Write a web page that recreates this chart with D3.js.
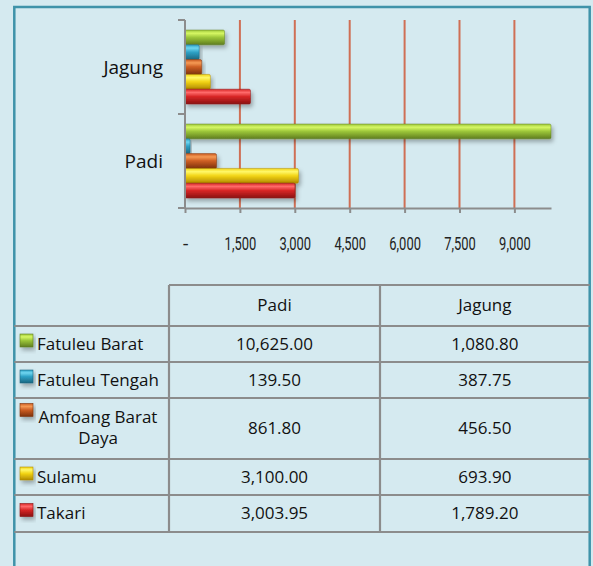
<!DOCTYPE html>
<html>
<head>
<meta charset="utf-8">
<script src="https://cdn.jsdelivr.net/npm/d3@7"></script>
<style>
  html, body { margin: 0; padding: 0; background: #d5eaf0; }
  svg { display: block; }
</style>
</head>
<body>
<svg id="chart" width="593" height="566"></svg>
<script>
// ---- data ----
const categories = ["Jagung", "Padi"];
const series = ["Fatuleu Barat", "Fatuleu Tengah", "Amfoang Barat Daya", "Sulamu", "Takari"];
const padiValues = [10625.00, 139.50, 861.80, 3100.00, 3003.95];
const jagungValues = [1080.80, 387.75, 456.50, 693.90, 1789.20];
const tickValues = [0, 1500, 3000, 4500, 6000, 7500, 9000];
const tickLabels = ["-", "1,500", "3,000", "4,500", "6,000", "7,500", "9,000"];
const tableHeaders = ["Padi", "Jagung"];
const padiText = ["10,625.00", "139.50", "861.80", "3,100.00", "3,003.95"];
const jagungText = ["1,080.80", "387.75", "456.50", "693.90", "1,789.20"];

const valuesByCat = { "Padi": padiValues, "Jagung": jagungValues };

// ---- styles ----
const palette = {
  "Fatuleu Barat":      { light: "#d6f764", mid: "#9cc63a", dark: "#5f7d20" },
  "Fatuleu Tengah":     { light: "#6fd6f0", mid: "#2fa2c6", dark: "#1a6680" },
  "Amfoang Barat Daya": { light: "#f59a55", mid: "#cc5d22", dark: "#7d320c" },
  "Sulamu":             { light: "#fff86a", mid: "#f2d414", dark: "#b08a00" },
  "Takari":             { light: "#ff6a6a", mid: "#d82626", dark: "#8a1212" }
};

const svg = d3.select("#chart");
const defs = svg.append("defs");

series.forEach((s, i) => {
  const c = palette[s];
  const g = defs.append("linearGradient").attr("id", "grad" + i)
    .attr("x1", 0).attr("y1", 0).attr("x2", 0).attr("y2", 1);
  g.append("stop").attr("offset", "0%").attr("stop-color", c.mid);
  g.append("stop").attr("offset", "22%").attr("stop-color", c.light);
  g.append("stop").attr("offset", "50%").attr("stop-color", c.mid);
  g.append("stop").attr("offset", "100%").attr("stop-color", c.dark);
});
const f = defs.append("filter").attr("id", "shadow")
  .attr("x", "-10%").attr("y", "-30%").attr("width", "130%").attr("height", "180%");
f.append("feDropShadow").attr("dx", 2).attr("dy", 3).attr("stdDeviation", 2)
  .attr("flood-color", "#000").attr("flood-opacity", 0.3);

// frame
svg.append("rect").attr("x", 0).attr("y", 0).attr("width", 593).attr("height", 566).attr("fill", "#d5eaf0");
svg.append("rect").attr("x", 14.3).attr("y", 7).attr("width", 575.4).attr("height", 600)
  .attr("fill", "none").attr("stroke", "#3f93a9").attr("stroke-width", 2.5);

// ---- scales ----
const x = d3.scaleLinear().domain([0, 10000]).range([185, 551]).clamp(true);
const y0 = d3.scaleBand().domain(categories).range([20, 208]);
const y1 = d3.scaleBand().domain(series).range([10, y0.bandwidth() - 10]);

// gridlines
svg.append("g").selectAll("line").data(tickValues.filter(d => d > 0)).join("line")
  .attr("x1", d => x(d)).attr("x2", d => x(d))
  .attr("y1", 20).attr("y2", 208)
  .attr("stroke", "#cf6f55").attr("stroke-width", 2);

// bars
const groups = svg.append("g").selectAll("g").data(categories).join("g")
  .attr("transform", d => `translate(0,${y0(d)})`);
groups.selectAll("rect")
  .data(cat => series.map((s, i) => ({ s, i, v: valuesByCat[cat][i] })))
  .join("rect")
  .attr("x", x(0))
  .attr("y", d => y1(d.s))
  .attr("width", d => x(d.v) - x(0))
  .attr("height", y1.bandwidth())
  .attr("rx", 1.5)
  .attr("fill", d => `url(#grad${d.i})`)
  .attr("stroke", d => palette[d.s].dark)
  .attr("stroke-opacity", 0.6)
  .attr("stroke-width", 0.8)
  .attr("filter", "url(#shadow)");

// y axis
const axisColor = "#8c8c8c";
svg.append("line").attr("x1", 185).attr("x2", 185).attr("y1", 20).attr("y2", 208)
  .attr("stroke", axisColor).attr("stroke-width", 2);
const bounds = categories.map(c => y0(c)).concat([y0.range()[1]]);
svg.append("g").selectAll("line").data(bounds).join("line")
  .attr("x1", 178).attr("x2", 185).attr("y1", d => d).attr("y2", d => d)
  .attr("stroke", axisColor).attr("stroke-width", 2);
svg.append("g").selectAll("text").data(categories).join("text")
  .attr("x", 163).attr("y", d => y0(d) + y0.bandwidth() / 2)
  .attr("dy", "0.35em")
  .attr("text-anchor", "end")
  .attr("font-family", "'Open Sans', sans-serif").attr("font-size", 19)
  .attr("fill", "#111").text(d => d);

// x axis
const xAxis = d3.axisBottom(x).tickValues(tickValues).tickFormat((d, i) => tickLabels[i])
  .tickSize(5).tickSizeOuter(0);
const gx = svg.append("g").attr("transform", "translate(0,208)").call(xAxis);
gx.select(".domain").attr("stroke", axisColor).attr("stroke-width", 2);
gx.selectAll(".tick line").attr("stroke", axisColor).attr("stroke-width", 2);
gx.selectAll(".tick text")
  .attr("y", 35).attr("dy", "0.35em")
  .attr("font-family", "Roboto, 'DejaVu Sans', sans-serif")
  .attr("font-size", 19).attr("fill", "#222")
  .each(function (d, i) {
    if (tickLabels[i].length > 1) {
      const w = this.getComputedTextLength();
      d3.select(this).attr("textLength", w * 0.68).attr("lengthAdjust", "spacingAndGlyphs");
    }
  });

// ---- data table ----
const colX = [14.3, 169, 380, 589.7];
const rowY = [285, 326, 362, 398, 459, 495, 532];
const lineColor = "#8c8c8c";
const tbl = svg.append("g");
// horizontal lines
tbl.append("line").attr("x1", colX[1]).attr("x2", colX[3]).attr("y1", rowY[0]).attr("y2", rowY[0])
  .attr("stroke", lineColor).attr("stroke-width", 2.2);
tbl.selectAll("line.h").data(rowY.slice(1)).join("line").attr("class", "h")
  .attr("x1", colX[0]).attr("x2", colX[3]).attr("y1", d => d).attr("y2", d => d)
  .attr("stroke", lineColor).attr("stroke-width", 2.2);
// vertical lines
tbl.selectAll("line.v").data([colX[1], colX[2]]).join("line").attr("class", "v")
  .attr("x1", d => d).attr("x2", d => d).attr("y1", rowY[0]).attr("y2", rowY[rowY.length - 1])
  .attr("stroke", lineColor).attr("stroke-width", 2.2);

const font = "'Open Sans', sans-serif";
const fs = 17;
// headers
tbl.selectAll("text.hd").data(tableHeaders).join("text").attr("class", "hd")
  .attr("x", (d, i) => (colX[i + 1] + colX[i + 2]) / 2)
  .attr("y", (rowY[0] + rowY[1]) / 2).attr("dy", "0.35em")
  .attr("text-anchor", "middle").attr("font-family", font).attr("font-size", fs)
  .attr("fill", "#111").text(d => d);

series.forEach((s, i) => {
  const top = rowY[i + 1], bot = rowY[i + 2];
  const cy = (top + bot) / 2;
  const c = palette[s];
  // row label
  if (s === "Amfoang Barat Daya") {
    tbl.append("text").attr("text-anchor", "middle").attr("font-family", font)
      .attr("font-size", fs).attr("fill", "#111")
      .attr("x", 98).attr("y", cy - 11).attr("dy", "0.35em").text("Amfoang Barat");
    tbl.append("text").attr("text-anchor", "middle").attr("font-family", font)
      .attr("font-size", fs).attr("fill", "#111")
      .attr("x", 98).attr("y", cy + 10).attr("dy", "0.35em").text("Daya");
    tbl.append("rect").attr("x", 20).attr("y", cy - 25).attr("width", 13).attr("height", 13)
      .attr("fill", `url(#grad${i})`).attr("stroke", c.dark).attr("stroke-width", 0.6)
      .attr("filter", "url(#shadow)");
  } else {
    tbl.append("text").attr("x", 37).attr("y", cy).attr("dy", "0.35em")
      .attr("font-family", font).attr("font-size", fs).attr("fill", "#111").text(s);
    tbl.append("rect").attr("x", 20).attr("y", cy - 10).attr("width", 13).attr("height", 13)
      .attr("fill", `url(#grad${i})`).attr("stroke", c.dark).attr("stroke-width", 0.6)
      .attr("filter", "url(#shadow)");
  }
  tbl.append("text").attr("x", (colX[1] + colX[2]) / 2).attr("y", cy).attr("dy", "0.35em")
    .attr("text-anchor", "middle").attr("font-family", font).attr("font-size", fs)
    .attr("fill", "#111").text(padiText[i]);
  tbl.append("text").attr("x", (colX[2] + colX[3]) / 2).attr("y", cy).attr("dy", "0.35em")
    .attr("text-anchor", "middle").attr("font-family", font).attr("font-size", fs)
    .attr("fill", "#111").text(jagungText[i]);
});
</script>
</body>
</html>
